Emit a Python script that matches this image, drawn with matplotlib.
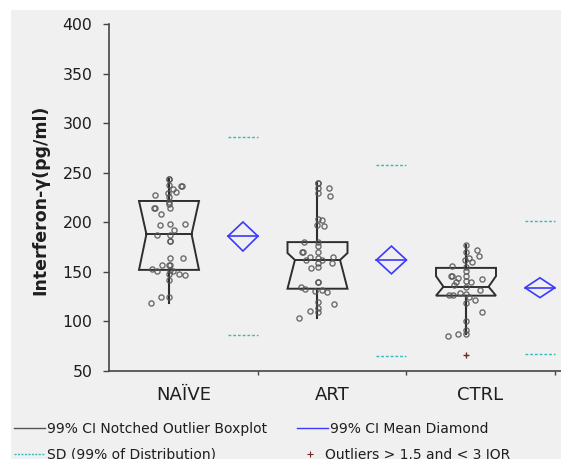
import matplotlib.pyplot as plt
from matplotlib.patches import Polygon, Rectangle
from matplotlib.lines import Line2D

plt.rcParams['font.family'] = ['DejaVu Sans']

groups = ['NAÏVE', 'ART', 'CTRL']

# observations per group, with horizontal jitter (in pixels of a group slot)
naive_vals = [243.4, 243.4, 237.6, 237.0, 237.0, 234.0, 230.6, 228.0, 230.0, 225.0,
              220.8, 218.0, 214.7, 214.7, 214.7, 208.7, 197.6, 198.3, 198.3, 192.0,
              186.8, 186.8, 181.0, 181.0, 163.7, 163.7, 157.0, 157.0, 157.0, 153.0,
              151.0, 152.0, 151.0, 148.0, 146.8, 147.5, 141.8, 125.0, 125.0, 118.6]
naive_jit = [0.0, 0.0, 0.0, 12.0, 13.0, 3.7, 7.0, -13.7, -0.7, 0.0,
             0.0, 0.0, -14.7, -14.3, 0.7, -7.7, -8.7, 0.7, 16.3, 5.0,
             -12.0, 0.7, 1.0, 1.5, 0.7, 14.3, -6.7, 0.3, 1.0, -16.7,
             -12.3, 1.0, 4.3, 10.0, 16.3, 0.0, 0.0, -7.7, 0.0, -18.0]

art_vals = [240.0, 240.0, 234.3, 234.3, 230.0, 227.0, 203.6, 202.0, 197.6, 196.0,
            180.0, 180.0, 176.0, 170.0, 170.0, 170.3, 165.4, 165.0, 162.0, 163.7,
            158.6, 162.0, 159.0, 153.6, 155.0, 139.5, 139.5, 134.4, 132.4, 130.7,
            131.4, 129.7, 120.0, 117.6, 111.0, 113.8, 109.8, 103.0]
art_jit = [0.2, 0.2, 0.2, 11.2, 0.2, 12.8, 0.2, 4.2, -0.8, 6.5,
           -13.5, 0.2, 0.2, -15.0, -14.0, 0.2, -7.5, 15.8, -11.5, 0.2,
           0.2, 4.2, 14.5, -6.5, 0.2, 0.2, 0.5, -16.5, -12.5, -2.2,
           4.2, 9.2, 0.2, 16.2, -7.5, 0.2, 0.2, -18.2]

ctrl_vals = [176.8, 172.4, 170.0, 166.0, 164.0, 162.0, 159.6, 155.2, 156.2, 151.0,
             145.8, 145.8, 143.5, 145.8, 142.8, 140.0, 140.8, 139.4, 136.4, 134.4,
             132.0, 128.4, 127.0, 126.3, 127.3, 124.6, 121.3, 118.6, 109.5, 100.7,
             91.0, 87.3, 87.3, 85.3]
ctrl_jit = [0.0, 11.3, 0.0, 13.0, 3.3, -1.3, 6.3, 0.0, -14.0, 0.0,
            -15.0, -14.0, -8.3, 0.0, 16.0, -10.0, 0.0, 4.7, -11.7, 0.0,
            14.3, -6.0, -16.7, -12.7, 0.0, 3.3, 9.3, 0.0, 16.3, 0.0,
            0.0, -8.3, 0.0, -18.3]
ctrl_outliers = [65.8]

# boxplot summaries
q1 = [152.0, 133.0, 126.0]
median = [188.0, 162.0, 135.0]
q3 = [221.5, 180.0, 154.0]
notch_lo = [152.0, 133.0, 126.0]
notch_hi = [221.5, 169.0, 145.7]
whisk_lo = [118.8, 103.8, 87.0]
whisk_hi = [243.4, 240.0, 177.0]

# mean diamonds and SD lines
means = [186.0, 162.0, 134.0]
ci_lo = [171.0, 148.0, 124.0]
ci_hi = [200.3, 176.0, 144.0]
sd_lo = [86.3, 65.5, 67.0]
sd_hi = [286.0, 257.8, 201.0]

GROUP_PX = 148.5
BOX_X, BOX_HW, NOTCH_HW = 0.404, 0.202, 0.152
DIA_X, DIA_HW = 0.902, 0.101
BOX_C = '#2e2e2e'
DIA_C = '#3a3aff'
SD_C = '#2fbcbc'
PT_C = '#555555'
TXT_C = '#1e1e1e'

W, H = 561, 459
fig = plt.figure(figsize=(W / 100, H / 100), dpi=100)
fig.patch.set_facecolor('white')
fig.patches.append(Rectangle((11 / W, 0), 1, 1 - 10 / H, transform=fig.transFigure,
                             facecolor='#f0f0f0', edgecolor='none', zorder=-10))

ax = fig.add_axes([109 / W, 1 - 371 / H, (W - 109) / W, (371 - 24) / H])
ax.set_facecolor('none')

all_vals = [naive_vals, art_vals, ctrl_vals]
all_jit = [naive_jit, art_jit, ctrl_jit]

for i in range(3):
    cx = i + BOX_X
    L, R = cx - BOX_HW, cx + BOX_HW
    il, ir = cx - NOTCH_HW, cx + NOTCH_HW
    verts = [(L, q3[i]), (L, notch_hi[i]), (il, median[i]), (L, notch_lo[i]), (L, q1[i]),
             (R, q1[i]), (R, notch_lo[i]), (ir, median[i]), (R, notch_hi[i]), (R, q3[i])]
    ax.add_patch(Polygon(verts, closed=True, fill=False, edgecolor=BOX_C, lw=1.4, zorder=3))
    ax.plot([il, ir], [median[i], median[i]], color=BOX_C, lw=1.4, zorder=3)
    ax.plot([cx, cx], [q3[i], whisk_hi[i]], color=BOX_C, lw=1.5, zorder=3)
    ax.plot([cx, cx], [q1[i], whisk_lo[i]], color=BOX_C, lw=1.5, zorder=3)

    xs = [cx + j / GROUP_PX for j in all_jit[i]]
    ax.plot(xs, all_vals[i], 'o', ms=3.7, mfc='none', mec=PT_C, mew=1.0,
            alpha=0.85, zorder=4)

    dx = i + DIA_X
    dia = [(dx - DIA_HW, means[i]), (dx, ci_hi[i]), (dx + DIA_HW, means[i]), (dx, ci_lo[i])]
    ax.add_patch(Polygon(dia, closed=True, fill=False, edgecolor=DIA_C, lw=1.2, zorder=3))
    ax.plot([dx - DIA_HW, dx + DIA_HW], [means[i], means[i]], color=DIA_C, lw=1.2, zorder=3)
    for s in (sd_lo[i], sd_hi[i]):
        ax.plot([dx - DIA_HW, dx + DIA_HW], [s, s], color=SD_C, lw=1.0,
                ls=(0, (2, 1.4)), zorder=3)

ax.plot([2 + BOX_X] * len(ctrl_outliers), ctrl_outliers, '+', ms=4, mew=1.0,
        color='#6a2a2a', zorder=4)

ax.set_xlim(0, (W - 109) / GROUP_PX)
ax.set_ylim(50, 400)
for side in ('top', 'right'):
    ax.spines[side].set_visible(False)
for side in ('left', 'bottom'):
    ax.spines[side].set_color('#454545')
    ax.spines[side].set_linewidth(1.2)

ax.set_yticks(range(50, 401, 50))
ax.tick_params(axis='y', length=4, width=1, color='#454545', pad=8,
               labelsize=11.3, labelcolor=TXT_C)
ax.set_xticks([1, 2, 3])
ax.set_xticklabels([])
ax.tick_params(axis='x', length=3, width=1, color='#454545')
ax.set_xticks([0.5, 1.5, 2.5], minor=True)
ax.set_xticklabels(groups, minor=True)
ax.tick_params(axis='x', which='minor', length=0, pad=11, labelsize=13,
               labelcolor=TXT_C)

ax.set_ylabel('Interferon-γ(pg/ml)', fontsize=12.5, fontweight='bold', color=TXT_C)
ax.yaxis.set_label_coords(-0.131, 0.493)

# legend drawn along the bottom edge
def fx(px):
    return px / W

def fy(px):
    return 1 - px / H

fig.add_artist(Line2D([fx(14), fx(45)], [fy(428), fy(428)], color='#555555', lw=1.0))
fig.text(fx(47), fy(433), '99% CI Notched Outlier Boxplot', fontsize=10, color=TXT_C)
fig.add_artist(Line2D([fx(297), fx(328)], [fy(428), fy(428)], color=DIA_C, lw=1.0))
fig.text(fx(330), fy(433), '99% CI Mean Diamond', fontsize=10, color=TXT_C)
fig.add_artist(Line2D([fx(14), fx(45)], [fy(454), fy(454)], color=SD_C, lw=1.0,
                      ls=(0, (1.5, 1))))
fig.text(fx(47), fy(458.5), 'SD (99% of Distribution)', fontsize=10, color=TXT_C)
fig.add_artist(Line2D([fx(310)], [fy(454)], marker='+', ms=4, mew=0.8,
                      color='#6a2a2a', ls='none'))
fig.text(fx(325), fy(458.5), 'Outliers > 1.5 and < 3 IQR', fontsize=10, color=TXT_C)

fig.savefig('out.png', dpi=100)
